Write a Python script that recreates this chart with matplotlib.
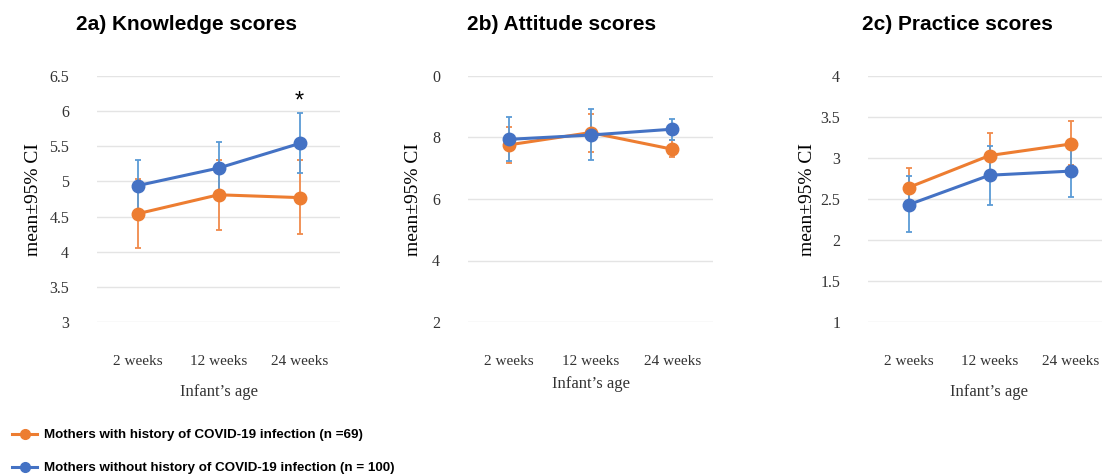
import matplotlib
matplotlib.use("Agg")
import matplotlib.pyplot as plt
from matplotlib.lines import Line2D

# data (mean and 95% CI bounds)
ages = ["2 weeks", "12 weeks", "24 weeks"]

know_covid = [4.54, 4.81, 4.77]
know_covid_lo = [4.05, 4.31, 4.25]
know_covid_hi = [5.04, 5.30, 5.31]
know_none = [4.94, 5.19, 5.54]
know_none_lo = [4.58, 4.82, 5.12]
know_none_hi = [5.30, 5.56, 5.97]

att_covid = [7.76, 8.16, 7.62]
att_covid_lo = [7.17, 7.52, 7.38]
att_covid_hi = [8.35, 8.76, 7.92]
att_none = [7.94, 8.08, 8.27]
att_none_lo = [7.24, 7.27, 7.92]
att_none_hi = [8.68, 8.92, 8.61]

prac_covid = [2.64, 3.03, 3.17]
prac_covid_lo = [2.40, 2.75, 2.91]
prac_covid_hi = [2.88, 3.31, 3.45]
prac_none = [2.43, 2.79, 2.84]
prac_none_lo = [2.10, 2.43, 2.52]
prac_none_hi = [2.78, 3.15, 3.15]

lab_covid = "Mothers with history of COVID-19 infection (n =69)"
lab_none = "Mothers without history of COVID-19 infection (n = 100)"

ORANGE = "#ED7D31"; BLUE = "#4472C4"
ORANGE_ERR = "#F08A4B"; BLUE_ERR = "#5B9BD5"
SERIF = "Liberation Serif"; SANS = "Liberation Sans"

fig = plt.figure(figsize=(11.02, 4.75), dpi=100)
W, H = 1102, 475

def px_axes(x0, x1, y0=76, y1=322):
    return fig.add_axes([x0 / W, 1 - y1 / H, (x1 - x0) / W, (y1 - y0) / H])

def panel(ax, title, tx, c, clo, chi, n, nlo, nhi, ylim, ticks, ticklabels, ylx, xlpad):
    x = range(len(ages))
    for m, lo, hi, col, ecol in [(c, clo, chi, ORANGE, ORANGE_ERR), (n, nlo, nhi, BLUE, BLUE_ERR)]:
        err = [[a - b for a, b in zip(m, lo)], [b - a for a, b in zip(m, hi)]]
        ax.errorbar(x, m, yerr=err, fmt="none", ecolor=ecol, elinewidth=1.3, capsize=2.5, capthick=1.3, zorder=2)
        ax.plot(x, m, color=col, lw=2.2, marker="o", ms=9, zorder=3)
    ax.set_xlim(-0.5, 2.5)
    ax.set_ylim(*ylim)
    ax.set_yticks(ticks)
    ax.set_yticklabels(ticklabels)
    ax.set_xticks(list(x))
    ax.set_xticklabels(ages)
    ax.grid(axis="y", color="#E4E4E4", lw=1)
    ax.set_axisbelow(True)
    for s in ax.spines.values():
        s.set_visible(False)
    ax.tick_params(length=0, labelsize=11, labelcolor="#333333")
    ax.tick_params(axis="y", labelsize=11.5)
    ax.tick_params(axis="x", pad=24)
    ax.tick_params(axis="y", pad=20)
    for t in ax.get_xticklabels() + ax.get_yticklabels():
        t.set_family(SERIF)
    ax.set_xlabel("Infant\u2019s age", family=SERIF, fontsize=12, color="#333333", labelpad=xlpad)
    fig.text(ylx / W, 1 - 199 / H, "mean\u00b195% CI", family=SERIF, fontsize=14, rotation=90,
             ha="center", va="center", color="black")
    fig.text(tx / W, 1 - 25 / H, title, family=SANS, fontweight="bold", fontsize=15, ha="center", va="center")

ax1 = px_axes(97, 340)
panel(ax1, "2a) Knowledge scores", 186, know_covid, know_covid_lo, know_covid_hi,
      know_none, know_none_lo, know_none_hi, (3, 6.5),
      [3, 3.5, 4, 4.5, 5, 5.5, 6, 6.5], ["3", "3.5", "4", "4.5", "5", "5.5", "6", "6.5"], 33, 11.5)
ax1.text(2, 6.14, "*", ha="center", va="center", fontsize=17, family=SANS)

ax2 = px_axes(468, 713)
panel(ax2, "2b) Attitude scores", 562, att_covid, att_covid_lo, att_covid_hi,
      att_none, att_none_lo, att_none_hi, (2, 10),
      [2, 4, 6, 8, 10], ["2", "4", "6", "8", "0"], 413, 5.5)

ax3 = px_axes(868, 1111)
panel(ax3, "2c) Practice scores", 957, prac_covid, prac_covid_lo, prac_covid_hi,
      prac_none, prac_none_lo, prac_none_hi, (1, 4),
      [1, 1.5, 2, 2.5, 3, 3.5, 4], ["1", "1.5", "2", "2.5", "3", "3.5", "4"], 807, 11.5)

handles = [Line2D([], [], color=ORANGE, lw=2.2, marker="o", ms=7),
           Line2D([], [], color=BLUE, lw=2.2, marker="o", ms=7)]
fig.legend(handles, [lab_covid, lab_none], loc="upper left", bbox_to_anchor=(8 / W, 1 - 425 / H),
           frameon=False, handlelength=1.9, handletextpad=0.5, labelspacing=1.55,
           prop={"family": SANS, "weight": "bold", "size": 9.6}, borderaxespad=0, borderpad=0.3)

fig.savefig("out.png", dpi=100)
